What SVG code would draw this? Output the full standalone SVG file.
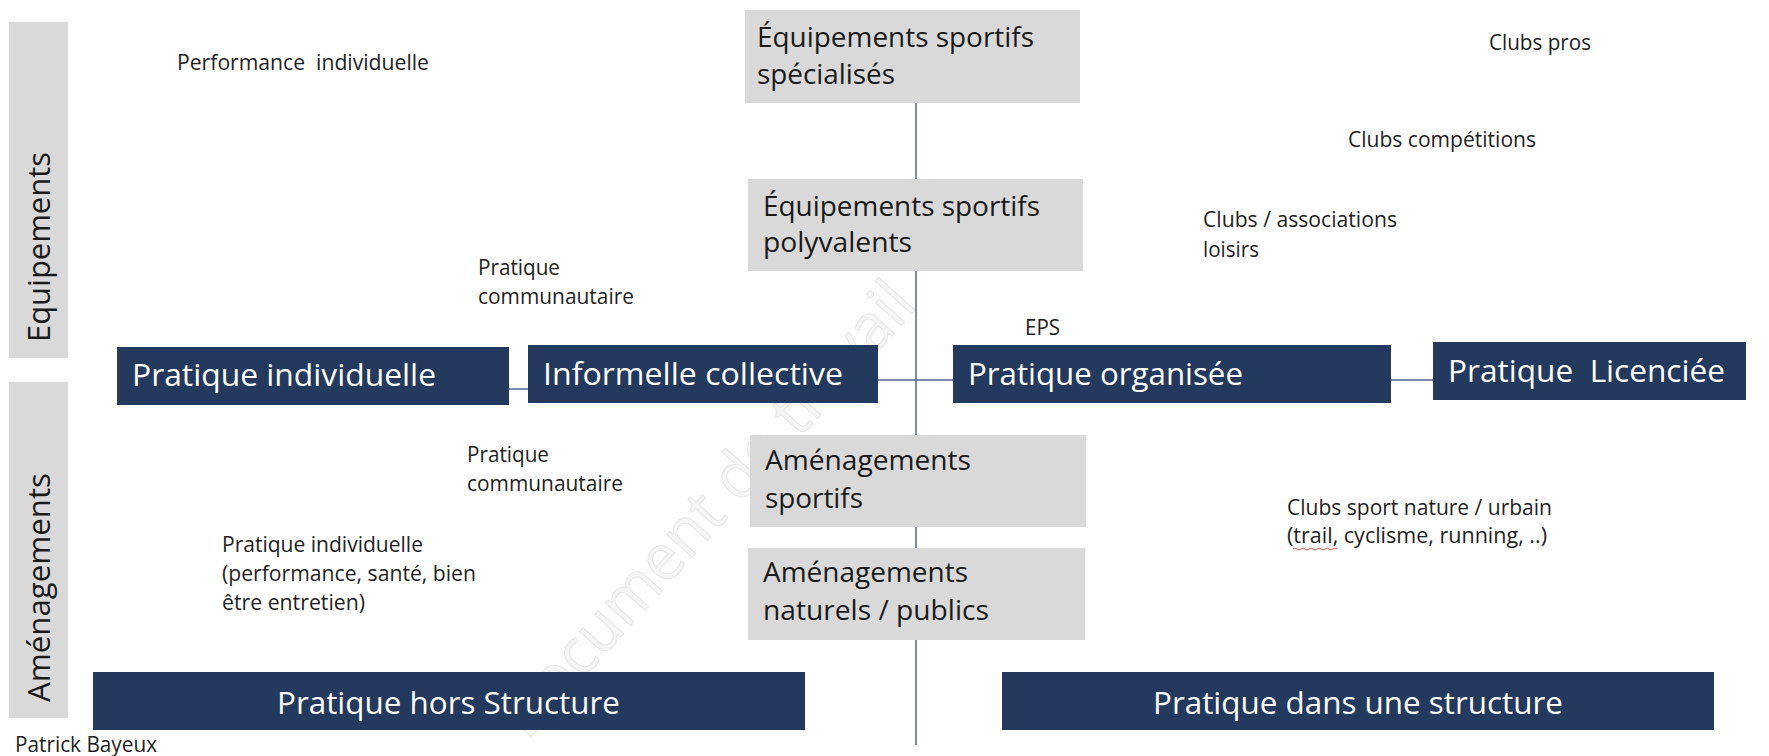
<svg xmlns="http://www.w3.org/2000/svg" width="1769" height="756" viewBox="0 0 1769 756">
  <style>
    text { font-family: "Open Sans", "Liberation Sans", sans-serif; }
    .lbl { font-size: 21px; fill: #1e1e1e; }
    .dk { fill: #233A5E; }
    .dkt { font-size: 31px; fill: #ffffff; }
    .gr { fill: #D9D9D9; }
    .grt { font-size: 28px; fill: #1a1a1a; }
    .side { font-size: 31px; fill: #1a1a1a; }
    .conn { stroke: #52658f; stroke-width: 1.5; fill: none; }
    .wm { font-size: 64px; fill: #f5f5f5; stroke: #e6e6e6; stroke-width: 1; }
  </style>
  <rect x="0" y="0" width="1769" height="756" fill="#ffffff"/>

  <!-- watermark -->
  <g id="watermark">
    <text class="wm" transform="translate(527,741) rotate(-48)" textLength="585" lengthAdjust="spacingAndGlyphs">Document de travail</text>
  </g>

  <!-- connectors -->
  <g id="connectors">
    <line class="conn" x1="916" y1="103" x2="916" y2="745"/>
    <line class="conn" x1="509" y1="389" x2="528" y2="389"/>
    <line class="conn" x1="878" y1="380" x2="953" y2="380"/>
    <line class="conn" x1="1391" y1="380" x2="1433" y2="380"/>
  </g>

  <!-- side labels -->
  <g id="side-equipements">
    <rect class="gr" x="9" y="22" width="59" height="336"/>
    <text class="side" transform="translate(50,342) rotate(-90)" textLength="190" lengthAdjust="spacingAndGlyphs">Equipements</text>
  </g>
  <g id="side-amenagements">
    <rect class="gr" x="9" y="382" width="59" height="336"/>
    <text class="side" transform="translate(50,702) rotate(-90)" textLength="229" lengthAdjust="spacingAndGlyphs">Aménagements</text>
  </g>

  <!-- grey nodes -->
  <g id="equip-specialises">
    <rect class="gr" x="745" y="10" width="335" height="93"/>
    <text class="grt" x="757" y="47" textLength="277" lengthAdjust="spacingAndGlyphs">Équipements sportifs</text>
    <text class="grt" x="757" y="84" textLength="138" lengthAdjust="spacingAndGlyphs">spécialisés</text>
  </g>
  <g id="equip-polyvalents">
    <rect class="gr" x="748" y="179" width="335" height="92"/>
    <text class="grt" x="763" y="216" textLength="277" lengthAdjust="spacingAndGlyphs">Équipements sportifs</text>
    <text class="grt" x="763" y="252" textLength="149" lengthAdjust="spacingAndGlyphs">polyvalents</text>
  </g>
  <g id="amen-sportifs">
    <rect class="gr" x="750" y="435" width="336" height="92"/>
    <text class="grt" x="765" y="470" textLength="206" lengthAdjust="spacingAndGlyphs">Aménagements</text>
    <text class="grt" x="765" y="508" textLength="98" lengthAdjust="spacingAndGlyphs">sportifs</text>
  </g>
  <g id="amen-naturels">
    <rect class="gr" x="748" y="548" width="337" height="92"/>
    <text class="grt" x="763" y="582" textLength="205" lengthAdjust="spacingAndGlyphs">Aménagements</text>
    <text class="grt" x="763" y="620" textLength="226" lengthAdjust="spacingAndGlyphs">naturels / publics</text>
  </g>

  <!-- dark nodes -->
  <g id="pratique-individuelle">
    <rect class="dk" x="117" y="347" width="392" height="58"/>
    <text class="dkt" x="132" y="386" textLength="304" lengthAdjust="spacingAndGlyphs">Pratique individuelle</text>
  </g>
  <g id="informelle-collective">
    <rect class="dk" x="528" y="345" width="350" height="58"/>
    <text class="dkt" x="543" y="385" textLength="300" lengthAdjust="spacingAndGlyphs">Informelle collective</text>
  </g>
  <g id="pratique-organisee">
    <rect class="dk" x="953" y="345" width="438" height="58"/>
    <text class="dkt" x="968" y="385" textLength="275" lengthAdjust="spacingAndGlyphs">Pratique organisée</text>
  </g>
  <g id="pratique-licenciee">
    <rect class="dk" x="1433" y="342" width="313" height="58"/>
    <text class="dkt" x="1448" y="382" xml:space="preserve" textLength="277" lengthAdjust="spacingAndGlyphs">Pratique  Licenciée</text>
  </g>
  <g id="pratique-hors-structure">
    <rect class="dk" x="93" y="672" width="712" height="58"/>
    <text class="dkt" x="277" y="714" textLength="343" lengthAdjust="spacingAndGlyphs">Pratique hors Structure</text>
  </g>
  <g id="pratique-dans-structure">
    <rect class="dk" x="1002" y="672" width="712" height="58"/>
    <text class="dkt" x="1153" y="714" textLength="410" lengthAdjust="spacingAndGlyphs">Pratique dans une structure</text>
  </g>

  <!-- free labels -->
  <g id="labels">
    <text class="lbl" x="177" y="70" xml:space="preserve" textLength="252" lengthAdjust="spacingAndGlyphs">Performance  individuelle</text>
    <text class="lbl" x="1489" y="50" textLength="102" lengthAdjust="spacingAndGlyphs">Clubs pros</text>
    <text class="lbl" x="1348" y="147" textLength="188" lengthAdjust="spacingAndGlyphs">Clubs compétitions</text>
    <text class="lbl" x="1203" y="227" textLength="194" lengthAdjust="spacingAndGlyphs">Clubs / associations</text>
    <text class="lbl" x="1203" y="257" textLength="56" lengthAdjust="spacingAndGlyphs">loisirs</text>
    <text class="lbl" x="478" y="275" textLength="82" lengthAdjust="spacingAndGlyphs">Pratique</text>
    <text class="lbl" x="478" y="304" textLength="156" lengthAdjust="spacingAndGlyphs">communautaire</text>
    <text class="lbl" x="1025" y="335" textLength="35" lengthAdjust="spacingAndGlyphs">EPS</text>
    <text class="lbl" x="467" y="462" textLength="82" lengthAdjust="spacingAndGlyphs">Pratique</text>
    <text class="lbl" x="467" y="491" textLength="156" lengthAdjust="spacingAndGlyphs">communautaire</text>
    <text class="lbl" x="222" y="552" textLength="201" lengthAdjust="spacingAndGlyphs">Pratique individuelle</text>
    <text class="lbl" x="222" y="581" textLength="254" lengthAdjust="spacingAndGlyphs">(performance, santé, bien</text>
    <text class="lbl" x="222" y="610" textLength="143" lengthAdjust="spacingAndGlyphs">être entretien)</text>
    <text class="lbl" x="1287" y="515" textLength="265" lengthAdjust="spacingAndGlyphs">Clubs sport nature / urbain</text>
    <text class="lbl" x="1287" y="543" textLength="260" lengthAdjust="spacingAndGlyphs">(trail, cyclisme, running, ..)</text>
    <path d="M1293,549 q2,-2 4,0 t4,0 t4,0 t4,0 t4,0 t4,0 t4,0 t4,0 t4,0 t4,0 t4,0" stroke="#e05050" stroke-width="1" fill="none"/>
    <text class="lbl" x="15" y="752" textLength="142" lengthAdjust="spacingAndGlyphs">Patrick Bayeux</text>
  </g>
</svg>
